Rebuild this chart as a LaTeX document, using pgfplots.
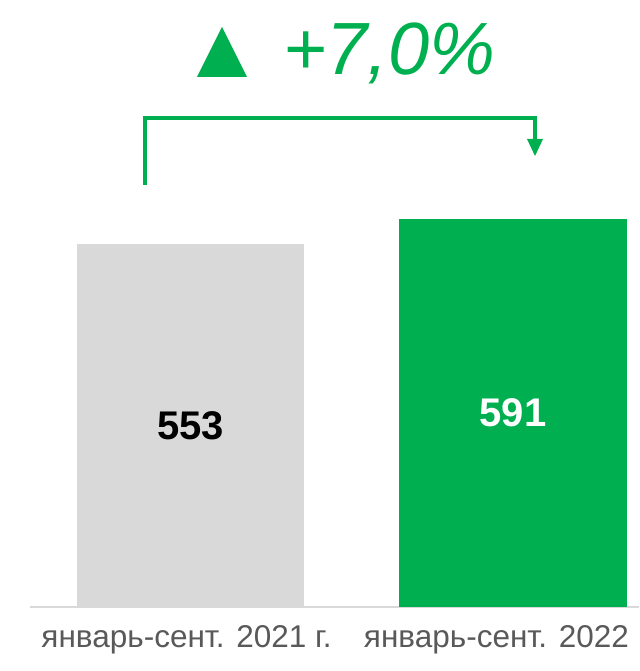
\documentclass[border=0pt]{standalone}
\usepackage{fontspec}
\setmainfont{Liberation Sans}
\usepackage{pgfplots}
\pgfplotsset{compat=1.18}
\definecolor{barGray}{HTML}{D9D9D9}
\definecolor{barGreen}{HTML}{00B050}
\definecolor{labGray}{HTML}{595959}
\begin{document}
\begin{tikzpicture}[x=1pt,y=1pt]
\path[use as bounding box] (0,0) rectangle (639,671);
\begin{axis}[
  at={(30pt,64pt)}, anchor=south west,
  scale only axis, width=609pt, height=607pt,
  xmin=-0.4977, xmax=1.3907, ymin=0, ymax=924.7,
  axis y line=none, axis x line*=bottom,
  x axis line style={draw=barGray, line width=1.5pt},
  xtick={0,1},
  xticklabels={январь-сент. 2021 г., январь-сент. 2022\phantom{ г.}},
  major tick length=0pt,
  xticklabel style={font=\fontsize{31.5}{36}\selectfont, text=labGray, anchor=base, yshift=-41pt, xshift=-4pt},
  ybar, bar width=227.5pt, clip=false,
]
\addplot[fill=barGray, draw=none, bar shift=0pt] coordinates {(0,553)};
\addplot[fill=barGreen, draw=none, bar shift=0pt] coordinates {(1,591)};
\node[font=\bfseries\fontsize{40}{44}\selectfont, text=black] at (axis cs:0,276.5) {553};
\node[font=\bfseries\fontsize{40}{44}\selectfont, text=white] at (axis cs:1,295.5) {591};
\end{axis}
% annotation
\fill[barGreen] (197,594) -- (247,594) -- (222,644) -- cycle;
\node[anchor=base west, inner sep=0pt, font=\itshape\fontsize{74}{84}\selectfont, text=barGreen] at (283,596) {+7,0\%};
\draw[barGreen, line width=4.5pt, line join=miter] (145,486) -- (145,553) -- (535,553) -- (535,531);
\fill[barGreen] (527,532) -- (543,532) -- (535,515) -- cycle;
\end{tikzpicture}
\end{document}
